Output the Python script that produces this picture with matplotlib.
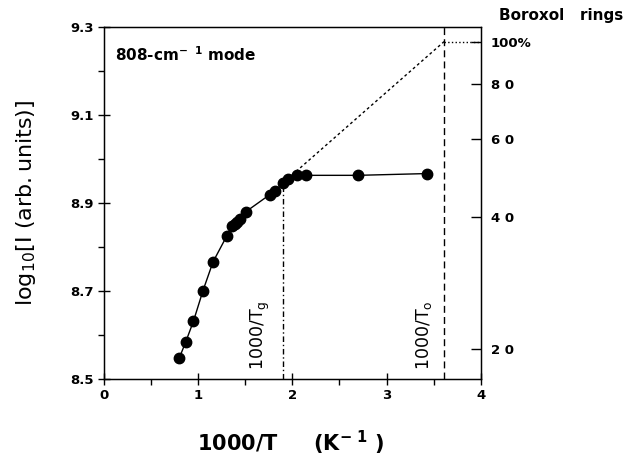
import numpy as np
import matplotlib
matplotlib.use("Agg")
import matplotlib.pyplot as plt

# 808 cm-1 mode intensity vs inverse temperature
inv_temp = [0.80, 0.867, 0.949, 1.051, 1.157, 1.303, 1.359, 1.388, 1.416, 1.441,
            1.504, 1.759, 1.812, 1.900, 1.957, 2.046, 2.141, 2.697, 3.426]
log_int = [8.548, 8.584, 8.631, 8.701, 8.766, 8.825, 8.848, 8.852, 8.858, 8.864,
           8.880, 8.919, 8.927, 8.945, 8.955, 8.963, 8.963, 8.963, 8.967]

# extrapolated line and reference temperatures
extrap_x = [1.95, 3.61]
extrap_y = [8.955, 9.267]
inv_tg = 1.90
inv_to = 3.61
full_level = 9.267  # log10 I at 100 % boroxol rings

ring_pct = [100, 80, 60, 40, 20]
ring_labels = ["100%", "8 0", "6 0", "4 0", "2 0"]

plt.rcParams["font.family"] = ["DejaVu Sans"]
plt.rcParams["mathtext.fontset"] = "dejavusans"

fig = plt.figure(figsize=(6.28, 4.57), dpi=100)
ax = fig.add_axes([0.1656, 0.1707, 0.600, 0.770])

ax.plot(inv_temp, log_int, "-", color="black", lw=1.0, marker="o", ms=7.5, zorder=3)
ax.plot(extrap_x, extrap_y, color="black", lw=1.0, linestyle=(0, (2, 2)))
ax.plot([inv_to, 4.0], [full_level, full_level], ":", color="black", lw=1.0)
ax.plot([inv_tg, inv_tg], [8.5, 8.94], color="black", lw=1.0, linestyle=(0, (4, 2, 1, 2)))
ax.axvline(inv_to, color="black", lw=1.0, linestyle=(0, (5, 3)))

ax.set_xlim(0, 4)
ax.set_ylim(8.5, 9.3)
ax.set_xticks([0, 1, 2, 3, 4])
ax.set_xticks([0.5, 1.5, 2.5, 3.5], minor=True)
ax.set_yticks([8.5, 8.7, 8.9, 9.1, 9.3])
ax.set_yticks([8.6, 8.8, 9.0, 9.2], minor=True)
ax.set_yticklabels(["8.5", "8.7", "8.9", "9.1", "9.3"])
ax.tick_params(which="major", direction="inout", length=8, width=1.0, labelsize=9.5)
ax.tick_params(which="minor", direction="out", length=4, width=1.0)
for lab in ax.get_xticklabels() + ax.get_yticklabels():
    lab.set_fontweight("bold")
for s in ax.spines.values():
    s.set_linewidth(1.0)

ax2 = ax.twinx()
ax2.set_ylim(8.5, 9.3)
ax2.set_yticks([full_level + np.log10(p / 100.0) for p in ring_pct])
ax2.set_yticklabels(ring_labels, fontweight="bold", fontsize=9.5)
ax2.tick_params(direction="in", length=7, width=1.0, pad=7)

ax.text(0.12, 9.238, r"808-cm$^{\mathbf{-\ \ 1}}$ mode", fontsize=11, fontweight="bold", va="center")
ax.text(1.66, 8.52, r"1000/T$_\mathregular{g}$", rotation=90, fontsize=12.5, ha="center", va="bottom")
ax.text(3.40, 8.52, r"1000/T$_\mathregular{o}$", rotation=90, fontsize=12.5, ha="center", va="bottom")

fig.text(0.893, 0.965, "Boroxol   rings", fontsize=11, fontweight="bold", ha="center", va="center")
fig.text(0.463, 0.03, r"1000/T     (K$^{\mathbf{-\ 1}}$ )", fontsize=15, fontweight="bold",
         ha="center", va="center")
fig.text(0.042, 0.555, r"$\mathregular{log_{10}}\left[\mathregular{I\ (arb.units)}\right]$",
         fontsize=16, rotation=90, ha="center", va="center")

fig.savefig("out.png", dpi=100)
